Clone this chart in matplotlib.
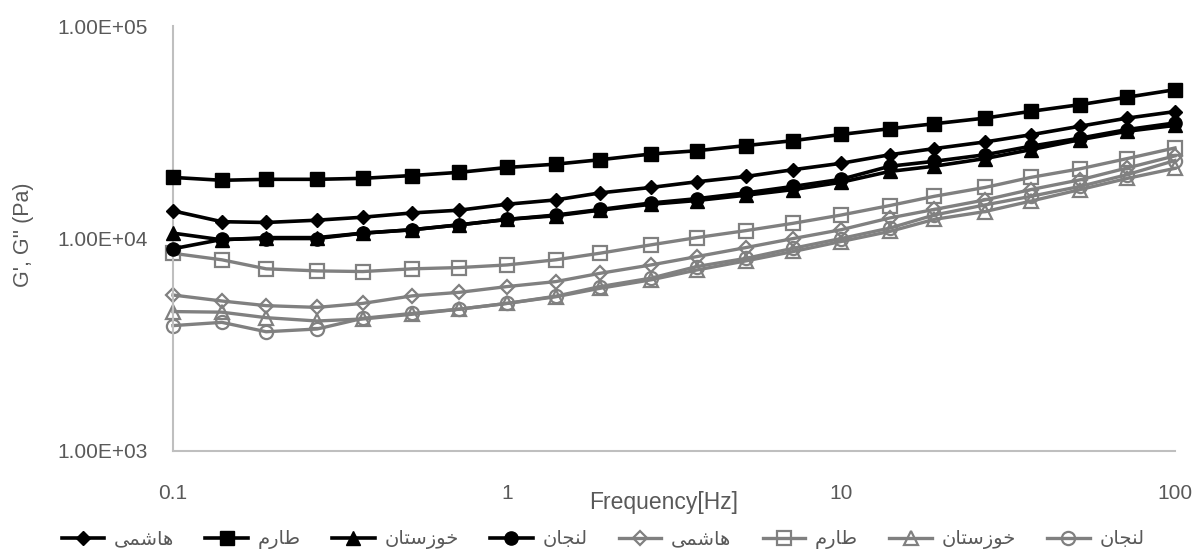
import matplotlib
matplotlib.use("Agg")
import matplotlib.pyplot as plt
from matplotlib.ticker import FixedLocator, FuncFormatter, NullLocator

plt.rcParams['font.family'] = ['Liberation Sans', 'DejaVu Sans']

# frequency sweep (Hz)
freq = [0.1, 0.14, 0.19, 0.27, 0.37, 0.52, 0.72, 1, 1.4, 1.9, 2.7, 3.7, 5.2, 7.2,
        10, 14, 19, 27, 37, 52, 72, 100]

cultivars = ['هاشمی', 'طارم', 'خوزستان', 'لنجان']

# G' (storage modulus, Pa)
g1_hashemi = [13500, 12000, 11900, 12200, 12600, 13200, 13600, 14500, 15200, 16400, 17400,
              18500, 19600, 21100, 22600, 24800, 26500, 28500, 30800, 33800, 36900, 39600]
g1_tarom = [19400, 18800, 19000, 19000, 19200, 19800, 20500, 21600, 22400, 23500, 25000,
            25900, 27400, 28900, 30900, 32900, 34700, 36900, 39700, 42700, 46300, 50200]
g1_khuzestan = [10600, 9860, 10100, 10100, 10600, 11000, 11600, 12300, 12800, 13600, 14500,
                15100, 16000, 17000, 18400, 20700, 21900, 23800, 26200, 29200, 32000, 34100]
g1_lenjan = [8950, 9900, 10000, 10000, 10600, 11000, 11600, 12300, 12900, 13700, 14700,
             15400, 16400, 17600, 19000, 21900, 23100, 24800, 27200, 29700, 32600, 35000]

# G'' (loss modulus, Pa)
g2_hashemi = [5420, 5080, 4830, 4740, 4950, 5370, 5580, 5940, 6270, 6860, 7510,
              8220, 9070, 10000, 11000, 12500, 13700, 15200, 17000, 18900, 21500, 24500]
g2_tarom = [8520, 7940, 7200, 7040, 6990, 7200, 7300, 7510, 7940, 8530, 9340,
            10100, 10900, 11800, 12900, 14300, 15800, 17400, 19400, 21300, 23800, 26700]
g2_khuzestan = [4530, 4500, 4240, 4090, 4180, 4400, 4650, 4950, 5320, 5830, 6390,
                7110, 7850, 8690, 9680, 10800, 12300, 13400, 15000, 17000, 19200, 21400]
g2_lenjan = [3890, 4030, 3640, 3750, 4210, 4440, 4650, 4950, 5350, 5940, 6510,
             7380, 8070, 9000, 10000, 11200, 12900, 14400, 15800, 17600, 20000, 23300]

# matplotlib has no arabic shaping, so pick presentation forms by hand and reverse
DUAL = {'ه': (0xFEE9, 0xFEEA, 0xFEEB, 0xFEEC), 'ش': (0xFEB5, 0xFEB6, 0xFEB7, 0xFEB8),
        'م': (0xFEE1, 0xFEE2, 0xFEE3, 0xFEE4), 'ی': (0xFBFC, 0xFBFD, 0xFBFE, 0xFBFF),
        'ط': (0xFEC1, 0xFEC2, 0xFEC3, 0xFEC4), 'خ': (0xFEA5, 0xFEA6, 0xFEA7, 0xFEA8),
        'س': (0xFEB1, 0xFEB2, 0xFEB3, 0xFEB4), 'ت': (0xFE95, 0xFE96, 0xFE97, 0xFE98),
        'ن': (0xFEE5, 0xFEE6, 0xFEE7, 0xFEE8), 'ل': (0xFEDD, 0xFEDE, 0xFEDF, 0xFEE0),
        'ج': (0xFE9D, 0xFE9E, 0xFE9F, 0xFEA0)}
RIGHT = {'ا': (0xFE8D, 0xFE8E), 'ر': (0xFEAD, 0xFEAE), 'و': (0xFEED, 0xFEEE),
         'ز': (0xFEAF, 0xFEB0)}

def shape(word):
    out = []
    for i, ch in enumerate(word):
        prev_j = i > 0 and word[i - 1] in DUAL
        nxt = i < len(word) - 1
        if ch in RIGHT:
            out.append(chr(RIGHT[ch][1] if prev_j else RIGHT[ch][0]))
        else:
            f = DUAL[ch]
            if prev_j and nxt:
                out.append(chr(f[3]))
            elif prev_j:
                out.append(chr(f[1]))
            elif nxt:
                out.append(chr(f[2]))
            else:
                out.append(chr(f[0]))
    return ''.join(reversed(out))

fig = plt.figure(figsize=(11.99, 5.56), dpi=100)
ax = fig.add_axes([0.1443, 0.189, 0.8357, 0.764])

blk = '#000000'
gry = '#808080'
g1 = [g1_hashemi, g1_tarom, g1_khuzestan, g1_lenjan]
g2 = [g2_hashemi, g2_tarom, g2_khuzestan, g2_lenjan]
mk = ['D', 's', '^', 'o']
ms1 = [7.5, 10, 9.5, 9.5]
ms2 = [7, 9.5, 9.5, 9.5]

handles = []
for i in range(4):
    l, = ax.plot(freq, g1[i], color=blk, lw=2.6, marker=mk[i], ms=ms1[i],
                 mfc=blk, mec=blk, clip_on=False, zorder=3)
    handles.append(l)
for i in range(4):
    l, = ax.plot(freq, g2[i], color=gry, lw=2.4, marker=mk[i], ms=ms2[i],
                 mfc='none', mec=gry, mew=1.6, clip_on=False, zorder=2)
    handles.append(l)

ax.set_xscale('log')
ax.set_yscale('log')
ax.set_xlim(0.1, 100)
ax.set_ylim(1e3, 1e5)

ax.xaxis.set_major_locator(FixedLocator([0.1, 1, 10, 100]))
ax.xaxis.set_major_formatter(FuncFormatter(lambda v, p: '%g' % v))
ax.xaxis.set_minor_locator(NullLocator())
ax.yaxis.set_major_locator(FixedLocator([1e3, 1e4, 1e5]))
ax.yaxis.set_major_formatter(FuncFormatter(lambda v, p: '%.2E' % v))
ax.yaxis.set_minor_locator(NullLocator())

ax.tick_params(axis='both', length=0, labelsize=15, labelcolor='#595959')
ax.tick_params(axis='x', pad=24)
ax.tick_params(axis='y', pad=18)

for s in ['top', 'right']:
    ax.spines[s].set_visible(False)
for s in ['left', 'bottom']:
    ax.spines[s].set_color('#bfbfbf')
    ax.spines[s].set_linewidth(1.5)

fig.text(664 / 1199, 1 - 503 / 556, 'Frequency[Hz]', ha='center', va='center',
         fontsize=16.5, color='#595959')
fig.text(24 / 1199, 1 - 235 / 556, "G', G'' (Pa)", ha='center', va='center',
         rotation=90, fontsize=15.5, color='#595959')

labels = [shape(n) for n in cultivars] * 2
fig.legend(handles, labels, loc='center', bbox_to_anchor=(0.503, 0.03), ncol=8,
           frameon=False, handlelength=2.2, handletextpad=0.5, columnspacing=1.6,
           prop={'family': ['DejaVu Sans'], 'size': 14}, labelcolor='#595959')

fig.savefig('out.png', dpi=100)
